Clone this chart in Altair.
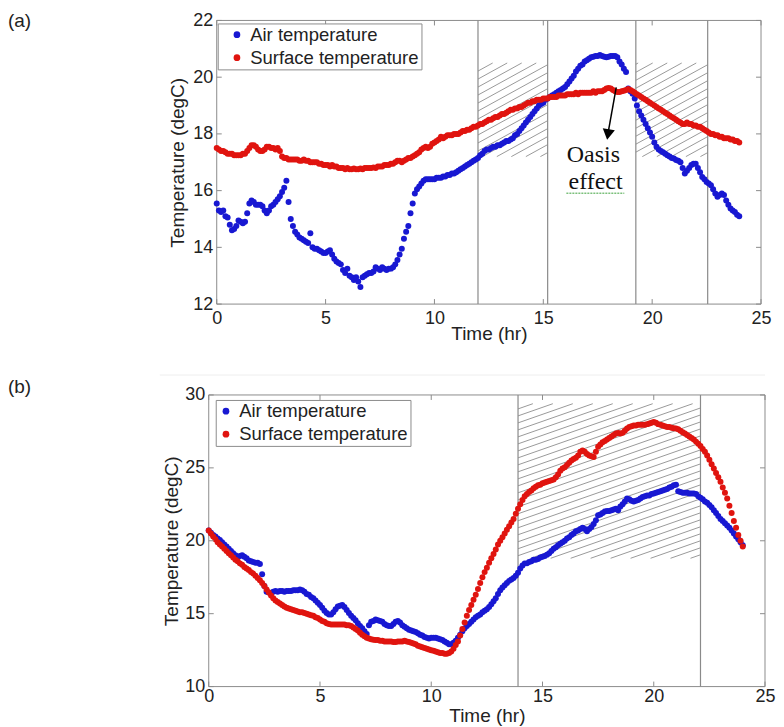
import altair as alt
import pandas as pd

# ---------------- data (0.1 h spacing) ----------------
TIME = [round(i * 0.1, 1) for i in range(241)]

AIR_A = [
    15.55, 15.3, 15.25, 15.3, 15.1, 15.05, 14.8, 14.6, 14.65, 14.75,
    14.95, 14.9, 14.85, 14.9, 15.2, 15.55, 15.65, 15.6, 15.5, 15.5,
    15.5, 15.45, 15.3, 15.2, 15.3, 15.45, 15.5, 15.6, 15.7, 15.8,
    15.95, 16.1, 16.35, 15.6, 15.0, 14.75, 14.55, 14.45, 14.35, 14.3,
    14.25, 14.2, 14.15, 14.5, 14.0, 13.95, 13.95, 13.9, 13.85, 13.8,
    13.8, 13.85, 13.9, 13.75, 13.6, 13.5, 13.45, 13.4, 13.2, 13.1,
    13.25, 13.0, 12.95, 12.85, 12.95, 12.8, 12.6, 12.95, 13.0, 13.05,
    13.1, 13.1, 13.15, 13.3, 13.25, 13.2, 13.3, 13.25, 13.2, 13.25,
    13.25, 13.3, 13.4, 13.55, 13.75, 13.95, 14.3, 14.55, 14.75, 15.2,
    15.55, 15.9, 16.05, 16.15, 16.25, 16.35, 16.4, 16.4, 16.4, 16.4,
    16.4, 16.45, 16.45, 16.45, 16.5, 16.5, 16.55, 16.55, 16.6, 16.6,
    16.65, 16.7, 16.75, 16.8, 16.85, 16.9, 16.95, 17.0, 17.05, 17.1,
    17.15, 17.25, 17.3, 17.4, 17.45, 17.45, 17.5, 17.55, 17.55, 17.6,
    17.6, 17.65, 17.7, 17.75, 17.75, 17.8, 17.85, 17.95, 18.0, 18.1,
    18.2, 18.3, 18.4, 18.5, 18.6, 18.7, 18.8, 18.9, 19.0, 19.05,
    19.1, 19.2, 19.25, 19.3, 19.35, 19.4, 19.45, 19.5, 19.55, 19.6,
    19.65, 19.75, 19.85, 19.95, 20.05, 20.2, 20.3, 20.4, 20.45, 20.55,
    20.6, 20.65, 20.7, 20.72, 20.75, 20.75, 20.78, 20.75, 20.72, 20.7,
    20.72, 20.75, 20.75, 20.75, 20.7, 20.55, 20.45, 20.3, 20.18, 19.6,
    19.5, 19.42, 19.25, 19.0, 18.8, 18.65, 18.5, 18.35, 18.2, 18.05,
    17.9, 17.7, 17.55, 17.45, 17.4, 17.35, 17.3, 17.25, 17.2, 17.15,
    17.13, 17.08, 17.05, 17.0, 16.8, 16.6, 16.7, 16.8, 16.9, 16.95,
    16.95, 16.8, 16.65, 16.48, 16.4, 16.3, 16.25, 16.19, 16.05, 15.9,
    15.78, 15.85, 15.9, 15.85, 15.65, 15.5, 15.37, 15.3, 15.25, 15.15,
    15.1,
]

SURF_A = [
    17.5, 17.45, 17.4, 17.4, 17.35, 17.3, 17.3, 17.3, 17.25, 17.25,
    17.25, 17.25, 17.3, 17.3, 17.4, 17.5, 17.6, 17.6, 17.55, 17.45,
    17.4, 17.4, 17.45, 17.55, 17.55, 17.5, 17.5, 17.45, 17.5, 17.4,
    17.2, 17.15, 17.15, 17.1, 17.1, 17.1, 17.1, 17.1, 17.05, 17.05,
    17.1, 17.05, 17.05, 17.0, 17.0, 17.0, 17.0, 16.95, 16.95, 16.9,
    16.9, 16.9, 16.85, 16.9, 16.85, 16.85, 16.8, 16.8, 16.8, 16.75,
    16.8, 16.75, 16.75, 16.78, 16.75, 16.75, 16.78, 16.75, 16.8, 16.8,
    16.8, 16.8, 16.82, 16.8, 16.85, 16.85, 16.85, 16.9, 16.9, 16.9,
    16.95, 16.95, 17.0, 17.05, 17.05, 17.0, 17.05, 17.1, 17.15, 17.15,
    17.2, 17.25, 17.3, 17.35, 17.45, 17.5, 17.55, 17.5, 17.55, 17.65,
    17.7, 17.75, 17.8, 17.9, 17.85, 17.9, 17.95, 17.95, 17.95, 18.0,
    18.0, 18.0, 18.05, 18.1, 18.1, 18.15, 18.15, 18.2, 18.25, 18.25,
    18.3, 18.35, 18.35, 18.4, 18.45, 18.5, 18.5, 18.55, 18.6, 18.6,
    18.65, 18.7, 18.7, 18.75, 18.8, 18.85, 18.85, 18.9, 18.9, 18.95,
    18.95, 19.0, 19.05, 19.1, 19.1, 19.15, 19.15, 19.2, 19.2, 19.2,
    19.25, 19.25, 19.25, 19.3, 19.3, 19.3, 19.3, 19.35, 19.35, 19.35,
    19.35, 19.4, 19.4, 19.4, 19.4, 19.45, 19.4, 19.45, 19.45, 19.45,
    19.45, 19.45, 19.45, 19.5, 19.45, 19.5, 19.5, 19.5, 19.55, 19.6,
    19.62, 19.6, 19.55, 19.5, 19.48, 19.48, 19.5, 19.52, 19.55, 19.58,
    19.55, 19.5, 19.45, 19.4, 19.35, 19.3, 19.25, 19.2, 19.15, 19.1,
    19.05, 19.0, 18.95, 18.9, 18.85, 18.8, 18.75, 18.7, 18.65, 18.6,
    18.55, 18.5, 18.45, 18.4, 18.35, 18.35, 18.4, 18.35, 18.35, 18.3,
    18.3, 18.25, 18.25, 18.2, 18.15, 18.1, 18.05, 18.0, 18.0, 17.95,
    17.95, 17.9, 17.9, 17.85, 17.85, 17.85, 17.8, 17.8, 17.75, 17.75,
    17.7,
]

AIR_B = [
    20.7, 20.55, 20.4, 20.3, 20.15, 20.05, 19.9, 19.75, 19.6, 19.45,
    19.3, 19.15, 19.0, 18.85, 18.95, 19.0, 18.9, 18.8, 18.65, 18.6,
    18.55, 18.5, 18.5, 18.4, 17.7, 16.9, 16.5, 16.45, 16.4, 16.5,
    16.55, 16.5, 16.55, 16.55, 16.5, 16.55, 16.55, 16.55, 16.6, 16.6,
    16.6, 16.65, 16.6, 16.5, 16.35, 16.3, 16.15, 16.05, 15.9, 15.75,
    15.6, 15.4, 15.2, 15.05, 14.95, 14.95, 15.1, 15.3, 15.5, 15.55,
    15.6, 15.45, 15.25, 15.05, 14.85, 14.7, 14.55, 14.35, 14.15, 14.0,
    13.8, 13.6, 14.2, 14.45, 14.5, 14.6, 14.55, 14.5, 14.45, 14.3,
    14.2, 14.15, 14.15, 14.3, 14.45, 14.5, 14.4, 14.2, 14.1, 14.0,
    13.9, 13.85, 13.8, 13.75, 13.65, 13.55, 13.5, 13.4, 13.35, 13.3,
    13.35, 13.35, 13.35, 13.3, 13.25, 13.2, 13.1, 13.0, 12.9, 12.9,
    13.0, 13.15, 13.35, 13.55, 13.8, 14.0, 14.15, 14.3, 14.45, 14.6,
    14.75, 14.85, 14.95, 15.1, 15.2, 15.3, 15.45, 15.65, 15.85, 16.05,
    16.35, 16.6, 16.8, 16.95, 17.1, 17.25, 17.35, 17.45, 17.6, 17.8,
    18.1, 18.3, 18.45, 18.45, 18.55, 18.6, 18.7, 18.7, 18.75, 18.85,
    18.9, 18.95, 19.05, 19.15, 19.3, 19.45, 19.55, 19.7, 19.8, 19.9,
    20.0, 20.15, 20.25, 20.4, 20.5, 20.65, 20.7, 20.8, 20.9, 20.8,
    20.65, 20.8, 20.95, 21.15, 21.4, 21.75, 21.8, 21.9, 22.0, 22.05,
    22.05, 22.1, 22.15, 22.2, 22.1, 22.35, 22.5, 22.7, 22.9, 22.85,
    22.75, 22.7, 22.75, 22.8, 22.9, 23.0, 23.05, 23.1, 23.1, 23.2,
    23.25, 23.3, 23.35, 23.4, 23.45, 23.5, 23.55, 23.65, 23.7, 23.8,
    23.85, 23.4, 23.35, 23.3, 23.3, 23.3, 23.25, 23.25, 23.25, 23.2,
    23.05, 22.95, 22.85, 22.7, 22.6, 22.45, 22.3, 22.1, 21.9, 21.7,
    21.5, 21.35, 21.2, 21.05, 20.9, 20.7, 20.5, 20.3, 20.1, 19.9,
    19.7,
]

SURF_B = [
    20.7, 20.5, 20.3, 20.1, 19.9, 19.75, 19.6, 19.45, 19.3, 19.15,
    19.0, 18.85, 18.7, 18.6, 18.45, 18.35, 18.2, 18.1, 18.0, 17.85,
    17.75, 17.6, 17.45, 17.3, 17.1, 16.9, 16.65, 16.45, 16.25, 16.05,
    15.9, 15.8, 15.7, 15.6, 15.5, 15.4, 15.35, 15.3, 15.25, 15.2,
    15.15, 15.1, 15.1, 15.05, 15.0, 14.95, 14.9, 14.85, 14.75, 14.7,
    14.6, 14.5, 14.45, 14.35, 14.3, 14.25, 14.25, 14.25, 14.25, 14.25,
    14.25, 14.25, 14.2, 14.2, 14.15, 14.05, 13.95, 13.85, 13.7, 13.55,
    13.45, 13.35, 13.3, 13.25, 13.22, 13.2, 13.2, 13.15, 13.15, 13.1,
    13.1, 13.1, 13.1, 13.05, 13.05, 13.1, 13.1, 13.1, 13.15, 13.1,
    13.05, 13.0, 12.95, 12.9, 12.8, 12.75, 12.7, 12.65, 12.6, 12.55,
    12.5, 12.45, 12.4, 12.35, 12.3, 12.3, 12.25, 12.25, 12.3, 12.4,
    12.6, 12.85, 13.1, 13.5, 13.95, 14.4, 14.85, 15.25, 15.6, 15.95,
    16.3, 16.7, 17.1, 17.5, 17.85, 18.15, 18.5, 18.8, 19.1, 19.4,
    19.75, 20.0, 20.25, 20.5, 20.75, 21.0, 21.25, 21.5, 21.85, 22.2,
    22.5, 22.8, 23.05, 23.2, 23.35, 23.45, 23.6, 23.7, 23.8, 23.85,
    23.95, 24.0, 24.05, 24.1, 24.15, 24.2, 24.35, 24.55, 24.8, 24.95,
    25.05, 25.2, 25.35, 25.5, 25.6, 25.7, 25.85, 26.1, 26.2, 26.1,
    25.95, 25.85, 25.8, 25.75, 26.1, 26.45, 26.6, 26.75, 26.85, 26.95,
    27.05, 27.15, 27.25, 27.35, 27.4, 27.35, 27.4, 27.55, 27.7, 27.8,
    27.85, 27.9, 27.9, 27.95, 27.95, 27.95, 27.95, 28.0, 28.05, 28.1,
    28.15, 28.1, 28.0, 27.95, 27.9, 27.85, 27.8, 27.8, 27.75, 27.72,
    27.7, 27.65, 27.55, 27.45, 27.35, 27.25, 27.15, 27.05, 26.95, 26.8,
    26.65, 26.5, 26.3, 26.1, 25.85, 25.55, 25.25, 24.95, 24.65, 24.35,
    24.05, 23.65, 23.3, 22.9, 22.4, 21.9, 21.35, 20.9, 20.4, 20.0,
    19.6,
]

SERIES = ["Air temperature", "Surface temperature"]
COLORS = ["#1818d2", "#e0140f"]

A_XTICKS = [0, 5, 10, 15, 20, 25]
A_YTICKS = [12, 14, 16, 18, 20, 22]
A_VLINES = [12.0, 15.2, 19.25, 22.55]
A_HATCH = [(12.0, 15.2, 17.2, 20.5), (19.25, 22.55, 17.2, 20.5)]

B_XTICKS = [0, 5, 10, 15, 20, 25]
B_YTICKS = [10, 15, 20, 25, 30]
B_VLINES = [13.9, 22.1]
B_HATCH = [(13.9, 22.1, 18.8, 29.4)]

FRAME = "#8c8c8c"
TXT = "#222222"
FONT = "Liberation Sans"
GROUP_W = 545  # common group width; panel (b) x range is shifted from it

for arr in (AIR_A, SURF_A, AIR_B, SURF_B):
    assert len(arr) == len(TIME), len(arr)


def long_df(air, surf):
    rows = [{"t": t, "temp": v, "series": SERIES[0]} for t, v in zip(TIME, air)]
    rows += [{"t": t, "temp": v, "series": SERIES[1]} for t, v in zip(TIME, surf)]
    return pd.DataFrame(rows)


def hatch_df(rects, kx, ky, slope, gap):
    rows = []
    for (x0, x1, y0, y1) in rects:
        X0, X1, Yb, Yt = x0 * kx, x1 * kx, y0 * ky, y1 * ky
        c = -(X1 - X0) * slope + gap / 2
        while c < (Yt - Yb):
            lo = max(X0, X0 + (0 - c) / slope)
            hi = min(X1, X0 + (Yt - Yb - c) / slope)
            if hi - lo > 1:
                rows.append({
                    "x": lo / kx, "y": (Yb + slope * (lo - X0) + c) / ky,
                    "x2": hi / kx, "y2": (Yb + slope * (hi - X0) + c) / ky,
                })
            c += gap
    return pd.DataFrame(rows)


def panel(air, surf, xr, H, ydom, xticks, yticks, vlines, hatch, hslope, hgap,
          label, label_y, legx, legy, symoff, xlabpad, xtitle_y, xtitle_base,
          ytitle_x, extra=None):
    x0p, x1p = xr
    W = x1p - x0p
    xs = alt.Scale(domain=[0, 25], nice=False, zero=False, range=[x0p, x1p])
    ys = alt.Scale(domain=ydom, nice=False, zero=False)
    kx = W / 25.0
    ky = H / float(ydom[1] - ydom[0])

    frame = alt.Chart(pd.DataFrame({"a": [0], "b": [25], "c": [ydom[0]], "d": [ydom[1]]})
                      ).mark_rect(fillOpacity=0, stroke=FRAME, strokeWidth=1).encode(
        x=alt.X("a:Q", scale=xs, axis=None), x2="b:Q",
        y=alt.Y("c:Q", scale=ys, axis=None), y2="d:Q")

    hat = alt.Chart(hatch_df(hatch, kx, ky, hslope, hgap)).mark_rule(
        color="#9a9a9a", strokeWidth=1
    ).encode(
        x=alt.X("x:Q", scale=xs, axis=None), y=alt.Y("y:Q", scale=ys, axis=None),
        x2="x2:Q", y2="y2:Q",
    )

    vl = alt.Chart(pd.DataFrame({"v": vlines})).mark_rule(
        color="#8a8a8a", strokeWidth=1.2
    ).encode(x=alt.X("v:Q", scale=xs, axis=None))

    pts = alt.Chart(long_df(air, surf)).mark_circle(size=36, opacity=1).encode(
        x=alt.X("t:Q", scale=xs, axis=alt.Axis(
            values=xticks, title="Time (hr)", grid=False, ticks=False, tickSize=0,
            domain=False, labelFlush=False, labelPadding=xlabpad, labelFontSize=18,
            labelColor=TXT, titleFontSize=19, titleColor=TXT, titleFontWeight="normal",
            titleBaseline=xtitle_base, titleY=xtitle_y, titleX=(x0p + x1p) / 2,
            format="d")),
        y=alt.Y("temp:Q", scale=ys, axis=alt.Axis(
            values=yticks, title="Temperature (degC)", grid=False, ticks=False,
            tickSize=0, domain=False, labelFlush=False, labelPadding=4, offset=-x0p,
            labelFontSize=18, labelColor=TXT, titleFontSize=19, titleColor=TXT,
            titleFontWeight="normal", titleAngle=270, titleBaseline="middle",
            titleAlign="center", titleX=ytitle_x, titleY=H / 2, format="d")),
        color=alt.Color("series:N", scale=alt.Scale(domain=SERIES, range=COLORS),
                        legend=alt.Legend(
                            title=None, orient="none", legendX=legx, legendY=legy,
                            padding=2, strokeColor=FRAME, fillColor="white",
                            symbolType="circle", symbolSize=45, symbolOffset=symoff,
                            labelOffset=4, rowPadding=4, labelFontSize=18.5,
                            labelFont=FONT, labelColor=TXT, labelLimit=400,
                            symbolStrokeWidth=0, cornerRadius=0)),
        order=alt.Order("series:N"),
    )

    tx = pd.DataFrame({"v": xticks})
    ty = pd.DataFrame({"v": yticks})
    ticks = [
        alt.Chart(tx).mark_rule(color=FRAME).encode(
            x=alt.X("v:Q", scale=xs, axis=None), y=alt.value(H), y2=alt.value(H - 5)),
        alt.Chart(tx).mark_rule(color=FRAME).encode(
            x=alt.X("v:Q", scale=xs, axis=None), y=alt.value(0), y2=alt.value(5)),
        alt.Chart(ty).mark_rule(color=FRAME).encode(
            y=alt.Y("v:Q", scale=ys, axis=None), x=alt.value(x0p), x2=alt.value(x0p + 5)),
        alt.Chart(ty).mark_rule(color=FRAME).encode(
            y=alt.Y("v:Q", scale=ys, axis=None), x=alt.value(x1p), x2=alt.value(x1p - 5)),
    ]

    lab = alt.Chart(pd.DataFrame({"s": [label]})).mark_text(
        align="left", baseline="middle", fontSize=19, font=FONT, color=TXT
    ).encode(x=alt.value(-209), y=alt.value(label_y), text="s:N")

    layers = [frame, hat, vl, pts] + ticks + [lab]
    if extra:
        layers += extra(xs, ys, x0p, x1p, H)
    return alt.layer(*layers).resolve_axis(x="independent", y="independent").properties(
        width=GROUP_W, height=H)


# ---- annotations ----
ANN_ARROW = {"x": [18.35], "y": [19.64], "x2": [17.98], "y2": [18.05]}
ANN_HEAD = {"x": [17.97], "y": [17.98]}
ANN_TEXT = {"x": [17.3, 17.4], "y": [17.25, 16.3], "s": ["Oasis", "effect"]}
ANN_WAVE = {"x": [16.06], "x2": [18.72], "y": [15.91]}


def extra_a(xs, ys, x0p, x1p, H):
    arrow = alt.Chart(pd.DataFrame(ANN_ARROW)).mark_rule(
        color="black", strokeWidth=1.5
    ).encode(x=alt.X("x:Q", scale=xs, axis=None), y=alt.Y("y:Q", scale=ys, axis=None),
             x2="x2:Q", y2="y2:Q")
    head = alt.Chart(pd.DataFrame(ANN_HEAD)).mark_point(
        shape="triangle-down", filled=True, size=150, color="black", opacity=1, angle=9
    ).encode(x=alt.X("x:Q", scale=xs, axis=None), y=alt.Y("y:Q", scale=ys, axis=None))
    txt = alt.Chart(pd.DataFrame(ANN_TEXT)).mark_text(
        font="Liberation Serif", fontSize=24, color="#111111", align="center",
        baseline="middle"
    ).encode(x=alt.X("x:Q", scale=xs, axis=None), y=alt.Y("y:Q", scale=ys, axis=None),
             text="s:N")
    wave = alt.Chart(pd.DataFrame(ANN_WAVE)).mark_rule(
        color="#3aa13a", strokeWidth=1, strokeDash=[2, 1]
    ).encode(x=alt.X("x:Q", scale=xs, axis=None), x2="x2:Q",
             y=alt.Y("y:Q", scale=ys, axis=None))
    return [arrow, head, txt, wave]


def extra_b(xs, ys, x0p, x1p, H):
    sep = alt.Chart(pd.DataFrame({"s": [0]})).mark_rule(
        color="#eeeeee", strokeWidth=1
    ).encode(x=alt.value(x0p - 49), x2=alt.value(x1p), y=alt.value(-20))
    return [sep]


pa = panel(AIR_A, SURF_A, (0, 545), 284, [12, 22], A_XTICKS, A_YTICKS, A_VLINES,
           A_HATCH, 0.55, 8, "(a)", 0.5, 1, 3, 8, 5, 29, "middle", -39, extra_a)
pb = panel(AIR_B, SURF_B, (-8, 549), 292, [10, 30], B_XTICKS, B_YTICKS, B_VLINES,
           B_HATCH, 0.35, 7, "(b)", -8, -1, 5, -1, 1, 35, "alphabetic", -37,
           extra_b)

chart = alt.ConcatChart(
    concat=[pa, pb], columns=1, spacing=31, bounds="full"
).resolve_scale(color="independent", x="independent", y="independent").resolve_legend(
    color="independent"
).properties(
    padding={"left": 0, "top": 3, "right": 0, "bottom": 0}
).configure(font=FONT).configure_view(stroke=None)

chart.save("out.html", embed_options={"renderer": "svg", "actions": False})
